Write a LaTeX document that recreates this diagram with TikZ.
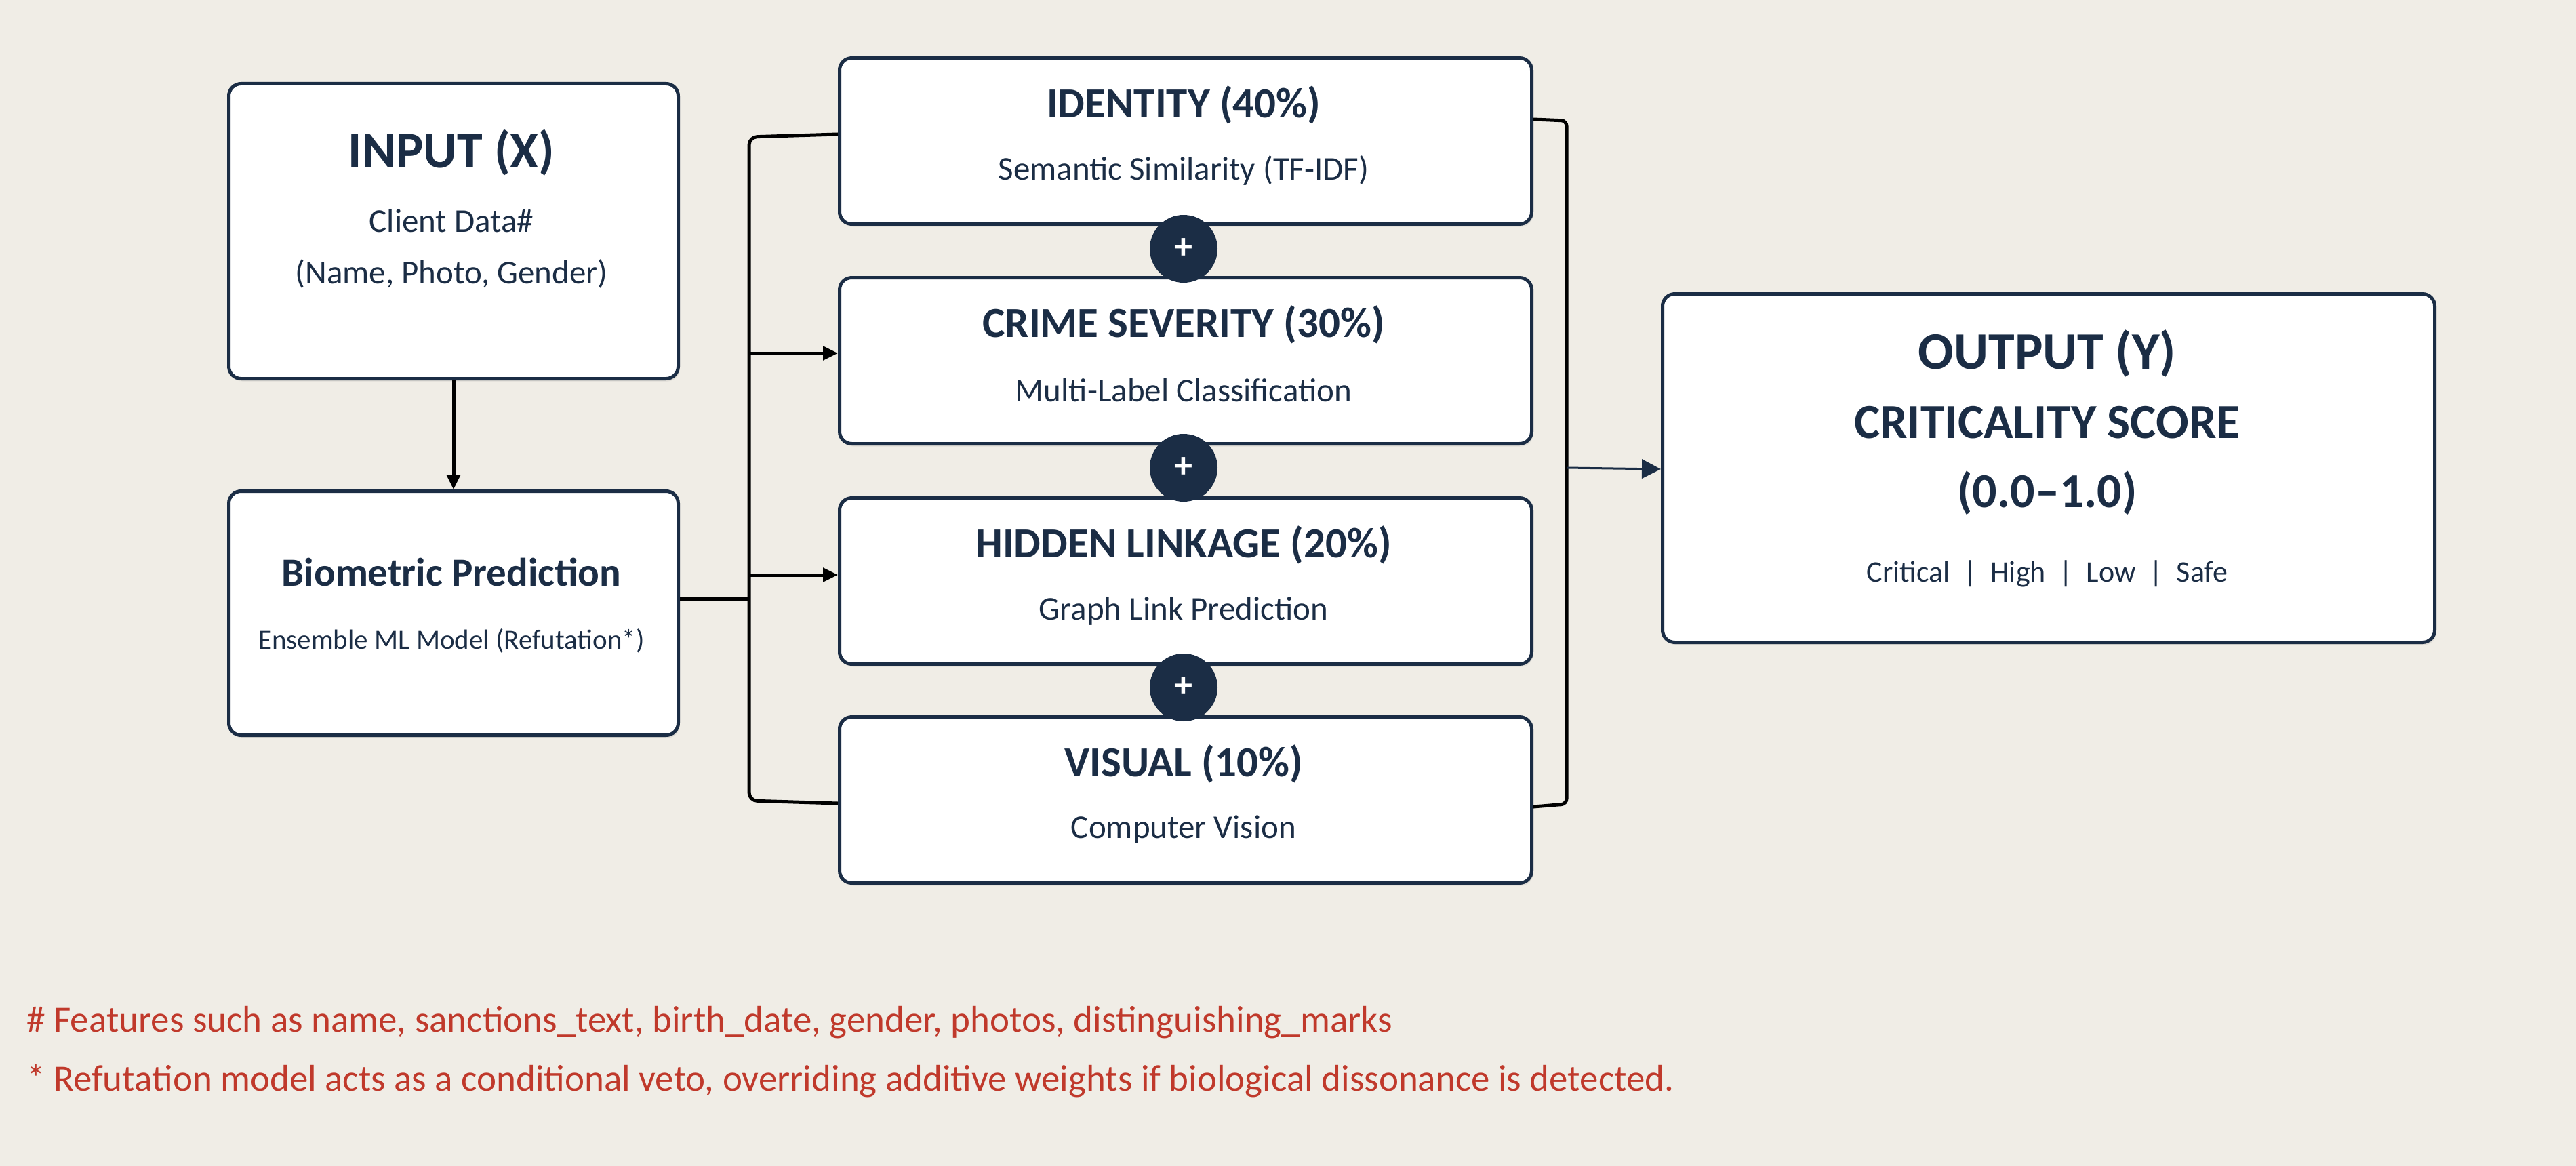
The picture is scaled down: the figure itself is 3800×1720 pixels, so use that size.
\documentclass[tikz,border=0pt]{standalone}
\usepackage{fontspec}
\setmainfont{Carlito}
\usetikzlibrary{arrows.meta,shadows}
\definecolor{bg}{HTML}{F0EDE6}
\definecolor{navy}{HTML}{1B2D45}
\definecolor{fnred}{HTML}{C0392B}
\begin{document}
\begin{tikzpicture}[x=1pt,y=-1pt,
  box/.style={draw=navy,line width=5pt,fill=white,rounded corners=18pt,drop shadow={shadow xshift=2pt,shadow yshift=-4pt,opacity=0.15}},
  ttl/.style={text=navy,font=\bfseries},
  sub/.style={text=navy},
  conn/.style={line width=5pt,draw=black},
  arr/.style={conn,-{Triangle[length=22pt,width=20pt]}},
  plus/.style={circle,fill=navy,minimum size=100pt,inner sep=0pt,text=white,font=\fontsize{54}{54}\selectfont\bfseries}]
\useasboundingbox[fill=bg] (0,0) rectangle (3800,1720);
% input
\node[box,minimum width=663pt,minimum height=435pt,anchor=north west] (in) at (335,121) {};
\node[ttl,font=\fontsize{76}{76}\selectfont\bfseries] (inT) at (666,225) {INPUT (X)};
\node[sub,font=\fontsize{49}{49}\selectfont] (inS1) at (666,326) {Client Data\#};
\node[sub,font=\fontsize{49}{49}\selectfont] (inS2) at (666,404) {(Name, Photo, Gender)};
% biometric
\node[box,minimum width=663pt,minimum height=360pt,anchor=north west] (bio) at (335,722) {};
\node[ttl,font=\fontsize{59}{59}\selectfont\bfseries] (bioT) at (666,844) {Biometric Prediction};
\node[sub,font=\fontsize{41}{41}\selectfont] (bioS) at (666,945) {Ensemble ML Model (Refutation*)};
% pillars
\foreach \n/\t/\s/\y in {p1/IDENTITY (40\%)/Semantic Similarity (TF-IDF)/83,
                          p2/CRIME SEVERITY (30\%)/Multi-Label Classification/407,
                          p3/HIDDEN LINKAGE (20\%)/Graph Link Prediction/732,
                          p4/VISUAL (10\%)/Computer Vision/1055}{
  \node[box,minimum width=1021pt,minimum height=245pt,anchor=north west] (\n) at (1236,\y) {};
  \node[ttl,font=\fontsize{63}{63}\selectfont\bfseries] (\n T) at (1746,\y+72) {\t};
  \node[sub,font=\fontsize{49}{49}\selectfont] (\n S) at (1746,\y+169) {\s};
}
\node[plus] (c1) at (1746,367) {+};
\node[plus] (c2) at (1746,690) {+};
\node[plus] (c3) at (1746,1014) {+};
% output
\node[box,minimum width=1139pt,minimum height=514pt,anchor=north west] (out) at (2450,431) {};
\node[ttl,font=\fontsize{78}{78}\selectfont\bfseries] (oT1) at (3020,521) {OUTPUT (Y)};
\node[ttl,font=\fontsize{72}{72}\selectfont\bfseries] (oT2) at (3020,623) {CRITICALITY SCORE};
\node[ttl,font=\fontsize{72}{72}\selectfont\bfseries] (oT3) at (3020,727) {(0.0–1.0)};
\node[sub,font=\fontsize{44}{44}\selectfont] (oS) at (3020,846) {Critical~~|~~High~~|~~Low~~|~~Safe};
% connectors
\draw[arr] (in.south) -- (bio.north);
\coordinate (lb) at (1105,883);
\draw[conn] (bio.east |- lb) -- (lb);
\draw[conn,rounded corners=12pt] (p1.west |- 0,198) -- (1105,202) -- (1105,1181) -- (p4.west |- 0,1185);
\draw[arr] (1105,521) -- (p2.west |- 0,521);
\draw[arr] (1105,848) -- (p3.west |- 0,848);
\draw[conn,rounded corners=8pt] (p1.east |- 0,176) -- (2311,178) -- (2311,1186) -- (p4.east |- 0,1190);
\coordinate (rb) at (2311,690);
\draw[line width=3pt,navy,-{Triangle[length=28pt,width=28pt]}] (rb) -- (out.west |- 0,692);
% footnotes
\node[anchor=west,text=fnred,font=\fontsize{55}{55}\selectfont] (f1) at (36,1508) {\# Features such as name, sanctions\_text, birth\_date, gender, photos, distinguishing\_marks};
\node[anchor=west,text=fnred,font=\fontsize{55}{55}\selectfont] (f2) at (36,1595) {* Refutation model acts as a conditional veto, overriding additive weights if biological dissonance is detected.};
\end{tikzpicture}
\end{document}
